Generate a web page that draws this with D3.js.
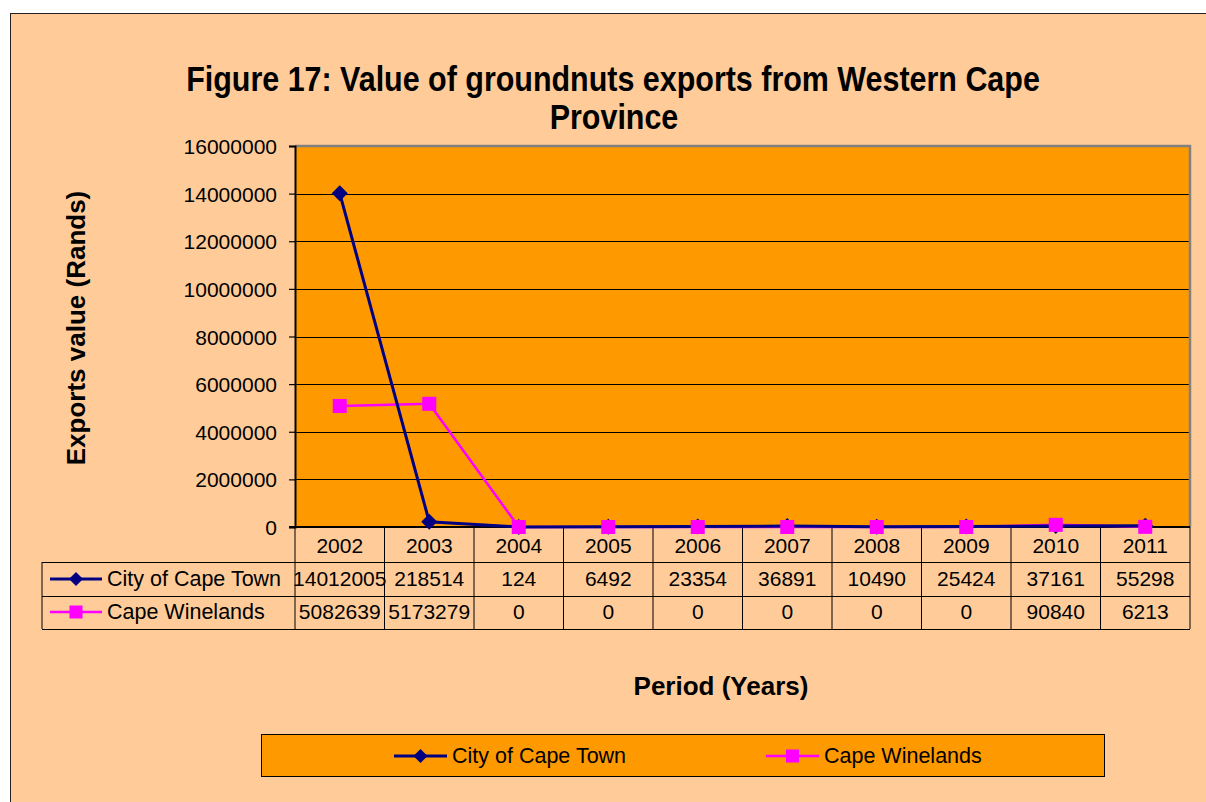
<!DOCTYPE html>
<html><head><meta charset="utf-8">
<script src="https://cdn.jsdelivr.net/npm/d3@7"></script>
<style>
html,body{margin:0;padding:0;background:#fff;}
svg{display:block;font-family:"Liberation Sans",Arial,sans-serif;}
</style></head>
<body>
<svg id="chart" width="1206" height="802"></svg>
<script>
const years = ["2002","2003","2004","2005","2006","2007","2008","2009","2010","2011"];
const cityCapeTown = [14012005,218514,124,6492,23354,36891,10490,25424,37161,55298];
const capeWinelands = [5082639,5173279,0,0,0,0,0,0,90840,6213];
const seriesNames = ["City of Cape Town","Cape Winelands"];
const yTicks = [0,2000000,4000000,6000000,8000000,10000000,12000000,14000000,16000000];

const svg = d3.select("#chart");
const C_BG="#FFCC99", C_PLOT="#FF9900", C_NAVY="#000080", C_MAG="#FF00FF";

// outer chart area
svg.append("rect").attr("x",10.5).attr("y",13.5).attr("width",1220).attr("height",820)
  .attr("fill",C_BG).attr("stroke","#222").attr("stroke-width",1);

const L=295, R=1190, T=146, B=527;
const x = d3.scaleBand().domain(years).range([L,R]);
const y = d3.scaleLinear().domain([0,16000000]).range([B,T]);

// plot area
svg.append("rect").attr("x",L).attr("y",T).attr("width",R-L).attr("height",B-T).attr("fill",C_PLOT);
// gridlines
svg.append("g").selectAll("line").data(yTicks.filter(d=>d>0 && d<16000000)).join("line")
  .attr("x1",L).attr("x2",R).attr("y1",d=>Math.round(y(d))+0.5).attr("y2",d=>Math.round(y(d))+0.5)
  .attr("stroke","#000").attr("stroke-width",1.2);
// top/right gray border
svg.append("path").attr("d",`M${L},${T} H${R} V${B}`).attr("fill","none").attr("stroke","#808080").attr("stroke-width",2.5);

// y axis
const yAxis = svg.append("g").attr("transform",`translate(${L},0)`)
  .call(d3.axisLeft(y).tickValues(yTicks).tickFormat(d3.format("d")).tickSize(6).tickPadding(12));
yAxis.select(".domain").attr("stroke","#000").attr("stroke-width",2);
yAxis.selectAll(".tick line").attr("stroke","#000").attr("stroke-width",1.2);
yAxis.selectAll(".tick text").attr("font-size",21).attr("font-family","'Liberation Sans',Arial,sans-serif").attr("fill","#000").attr("dy","0.36em");

// data table
const tb = svg.append("g");
const tableLeft = 42;
const colEdges = years.map(d=>x(d)).concat([R]);
tb.selectAll("line.v").data(colEdges).join("line").attr("class","v")
  .attr("x1",d=>d).attr("x2",d=>d).attr("y1",B).attr("y2",629)
  .attr("stroke","#000").attr("stroke-width",1);
tb.append("line").attr("x1",tableLeft).attr("x2",tableLeft).attr("y1",562).attr("y2",629).attr("stroke","#000");
[562,596,629].forEach(v=>{
  tb.append("line").attr("x1",tableLeft).attr("x2",R).attr("y1",v+0.5).attr("y2",v+0.5).attr("stroke","#000").attr("stroke-width",1);
});
// bottom axis line
svg.append("line").attr("x1",L-6).attr("x2",R).attr("y1",B).attr("y2",B).attr("stroke","#000").attr("stroke-width",2.2);

// year labels
tb.selectAll("text.yr").data(years).join("text").attr("class","yr")
  .attr("x",d=>x(d)+x.bandwidth()/2).attr("y",553).attr("text-anchor","middle")
  .attr("font-size",21).text(d=>d);
const rows = [cityCapeTown, capeWinelands];
const rowBase = [586, 619];
rows.forEach((arr,i)=>{
  tb.selectAll("text.r"+i).data(arr).join("text").attr("class","r"+i)
    .attr("x",(d,j)=>x(years[j])+x.bandwidth()/2).attr("y",rowBase[i]).attr("text-anchor","middle")
    .attr("font-size",21).text(d=>d);
});

function diamond(g,cx,cy,r){ g.append("path").attr("d",`M${cx},${cy-r} L${cx+r},${cy} L${cx},${cy+r} L${cx-r},${cy} Z`).attr("fill",C_NAVY); }
function square(g,cx,cy,s){ g.append("rect").attr("x",cx-s/2).attr("y",cy-s/2).attr("width",s).attr("height",s).attr("fill",C_MAG); }

function key(g,x1,x2,cy,i){
  g.append("line").attr("x1",x1).attr("x2",x2).attr("y1",cy).attr("y2",cy)
    .attr("stroke",i===0?C_NAVY:C_MAG).attr("stroke-width",i===0?3:2.5);
  if(i===0) diamond(g,(x1+x2)/2,cy,7); else square(g,(x1+x2)/2,cy,13);
}
key(tb,50,102,579,0); key(tb,50,102,612,1);
tb.append("text").attr("x",107).attr("y",586).attr("font-size",21.5).text(seriesNames[0]);
tb.append("text").attr("x",107).attr("y",619).attr("font-size",21.5).text(seriesNames[1]);

// lines
const cx = d=>x(d)+x.bandwidth()/2;
const line = d3.line().x(d=>cx(d[0])).y(d=>y(d[1]));
const lg = svg.append("g");
lg.append("path").datum(years.map((d,i)=>[d,capeWinelands[i]])).attr("d",line)
  .attr("fill","none").attr("stroke",C_MAG).attr("stroke-width",2.5);
lg.append("path").datum(years.map((d,i)=>[d,cityCapeTown[i]])).attr("d",line)
  .attr("fill","none").attr("stroke",C_NAVY).attr("stroke-width",3);
years.forEach((d,i)=>diamond(lg,cx(d),y(cityCapeTown[i]),8));
years.forEach((d,i)=>square(lg,cx(d),y(capeWinelands[i]),14));

// title
const title = svg.append("g").attr("font-weight","bold").attr("font-size",35);
title.append("text").attr("transform","translate(613,91) scale(0.87,1)").attr("text-anchor","middle")
  .text("Figure 17: Value of groundnuts exports from Western Cape");
title.append("text").attr("transform","translate(614,129) scale(0.87,1)").attr("text-anchor","middle")
  .text("Province");

// axis titles
svg.append("text").attr("transform","translate(85,328) rotate(-90)").attr("text-anchor","middle")
  .attr("font-weight","bold").attr("font-size",26).text("Exports value (Rands)");
svg.append("text").attr("x",721).attr("y",695).attr("text-anchor","middle")
  .attr("font-weight","bold").attr("font-size",26).text("Period (Years)");

// legend
const lgd = svg.append("g");
lgd.append("rect").attr("x",261.5).attr("y",734.5).attr("width",843).attr("height",42)
  .attr("fill",C_PLOT).attr("stroke","#000").attr("stroke-width",1);
key(lgd,394,447,756,0); key(lgd,766,819,756,1);
lgd.append("text").attr("x",452).attr("y",763).attr("font-size",21.5).text(seriesNames[0]);
lgd.append("text").attr("x",824).attr("y",763).attr("font-size",21.5).text(seriesNames[1]);
</script>
</body></html>
